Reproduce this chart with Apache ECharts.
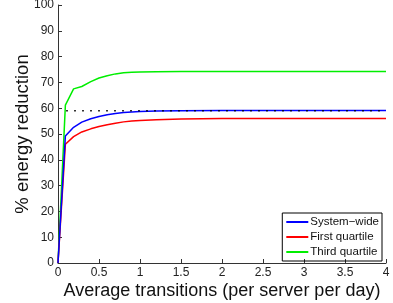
<!DOCTYPE html>
<html>
<head>
<meta charset="utf-8"/>
<title>energy reduction</title>
<style>html,body{margin:0;padding:0;background:#fff}#container{width:393px;height:303px}</style>
</head>
<body>
<div id="container"></div>
<script type="text/javascript" src="https://cdn.jsdelivr.net/npm/echarts@6/dist/echarts.min.js"></script>
<script type="text/javascript">
// x = average transitions per server per day
var xs = [0, 0.09, 0.19, 0.29, 0.4, 0.5, 0.6, 0.7, 0.8, 0.9, 1.0, 1.2, 1.5, 2, 3, 4];
var systemWide = [0, 49.2, 52.6, 54.6, 55.9, 56.8, 57.5, 57.9, 58.3, 58.5, 58.7, 58.9, 59.0, 59.1, 59.1, 59.1];
var firstQuartile = [0, 46.0, 49.0, 50.8, 52.0, 52.9, 53.6, 54.2, 54.7, 55.0, 55.2, 55.5, 55.8, 56.0, 56.0, 56.0];
var thirdQuartile = [0, 61.2, 67.5, 68.4, 70.3, 71.7, 72.6, 73.3, 73.7, 73.9, 74.0, 74.1, 74.2, 74.2, 74.2, 74.2];
var refX = [0.1, 4];
var refY = [59, 59];

function pairs(x, y) {
    return x.map(function (v, i) { return [v, y[i]]; });
}

var font = 'Liberation Sans, Arial, sans-serif';
var myChart = echarts.init(document.getElementById('container'));
var option = {
    animation: false,
    grid: {left: 58, right: 7, top: 5, bottom: 40, outerBoundsMode: 'none', containLabel: false},
    legend: {
        right: 11, bottom: 42, orient: 'vertical',
        data: ['System\u2212wide', 'First quartile', 'Third quartile'],
        borderColor: '#000', borderWidth: 1, padding: [3, 3, 3, 4],
        itemGap: 3, itemWidth: 22, itemHeight: 2, icon: 'rect',
        textStyle: {fontFamily: font, fontSize: 11.5, color: '#111', padding: [0, 0, 0, -3]}
    },
    xAxis: {
        type: 'value', min: 0, max: 4, interval: 0.5,
        name: 'Average transitions (per server per day)',
        nameLocation: 'middle', nameGap: 19, nameMoveOverlap: false,
        nameTextStyle: {fontFamily: font, fontSize: 18, color: '#111', verticalAlign: 'top'},
        axisLine: {lineStyle: {color: '#333'}},
        axisTick: {inside: true, length: 4, lineStyle: {color: '#333'}},
        axisLabel: {fontFamily: font, fontSize: 12, color: '#222', margin: 4},
        splitLine: {show: false}
    },
    yAxis: {
        type: 'value', min: 0, max: 100, interval: 10,
        name: '% energy reduction',
        nameLocation: 'middle', nameGap: 26, nameMoveOverlap: false,
        nameTextStyle: {fontFamily: font, fontSize: 18.5, color: '#111'},
        axisLine: {show: true, lineStyle: {color: '#333'}},
        axisTick: {show: true, inside: true, length: 4, lineStyle: {color: '#333'}},
        axisLabel: {fontFamily: font, fontSize: 12, color: '#222', margin: 4},
        splitLine: {show: false}
    },
    series: [
        {name: 'Third quartile', type: 'line', data: pairs(xs, thirdQuartile), showSymbol: false,
         color: '#00ee00', lineStyle: {width: 1.5, color: '#00ee00'}},
        {name: 'First quartile', type: 'line', data: pairs(xs, firstQuartile), showSymbol: false,
         color: '#ff0000', lineStyle: {width: 1.5, color: '#ff0000'}},
        {name: 'System\u2212wide', type: 'line', data: pairs(xs, systemWide), showSymbol: false,
         color: '#0000ff', lineStyle: {width: 1.5, color: '#0000ff'}},
        {name: 'ref', type: 'line', data: pairs(refX, refY), showSymbol: false,
         lineStyle: {width: 1.6, color: '#000', type: [1.6, 6.4]}}
    ]
};
myChart.setOption(option);
</script>
</body>
</html>
